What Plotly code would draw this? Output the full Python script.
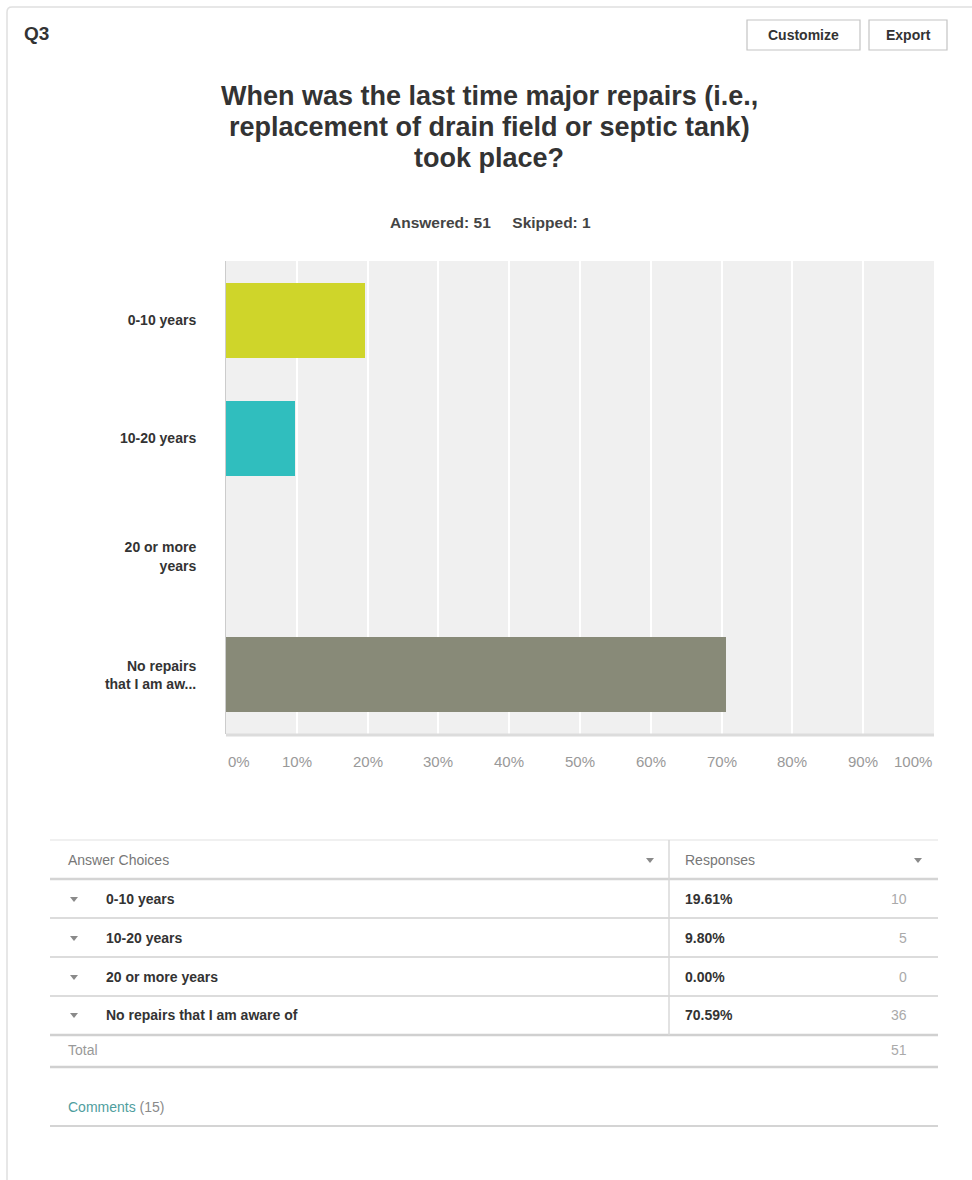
import plotly.graph_objects as go

# ---- data ----
answer_choices = ["0-10 years", "10-20 years", "20 or more years", "No repairs that I am aware of"]
axis_labels = ["0-10 years", "10-20 years", "20 or more<br>years", "No repairs<br>that I am aw..."]
percents = [19.61, 9.80, 0.00, 70.59]
counts = [10, 5, 0, 36]
total = 51
answered = 51
skipped = 1
comments = 15
bar_colors = ["#cfd52a", "#30bebe", "#d36a4e", "#888a78"]
tick_vals = [0, 10, 20, 30, 40, 50, 60, 70, 80, 90, 100]
tick_text = [f"{v}%" for v in tick_vals]

W, H = 972, 1180
FONT = "Liberation Sans, Arial, Helvetica, sans-serif"


def px(x):
    return x / W


def py(y):
    return 1 - y / H


fig = go.Figure()
fig.add_trace(go.Bar(
    x=percents, y=axis_labels, orientation="h",
    marker=dict(color=bar_colors, line=dict(width=0)),
    width=0.634, hoverinfo="skip",
))

shapes = []
annotations = []

# panel frame
shapes.append(dict(type="path", xref="paper", yref="paper",
                   path=f"M {px(7)},{py(1180)} L {px(7)},{py(12)} Q {px(7)},{py(7)} {px(12)},{py(7)} L {px(975)},{py(7)}",
                   line=dict(color="#e0e0e0", width=1.5)))

# header
annotations.append(dict(text="Q3", x=px(22), y=py(34), xref="paper", yref="paper",
                        xanchor="left", yanchor="middle", showarrow=False,
                        font=dict(family=FONT, size=19, color="#333333", weight="bold")))
for label, x0, x1 in [("Customize", 747, 860), ("Export", 869, 947)]:
    shapes.append(dict(type="rect", xref="paper", yref="paper",
                       x0=px(x0), x1=px(x1), y0=py(20), y1=py(50),
                       line=dict(color="#c4c4c4", width=1.2), fillcolor="#ffffff"))
    annotations.append(dict(text=label, x=px((x0 + x1) / 2), y=py(35), xref="paper", yref="paper",
                            xanchor="center", yanchor="middle", showarrow=False,
                            font=dict(family=FONT, size=14, color="#333333", weight="bold")))

# title lines
title_lines = ["When was the last time major repairs (i.e.,",
               "replacement of drain field or septic tank)",
               "took place?"]
for i, line in enumerate(title_lines):
    annotations.append(dict(text=line, x=px(489), y=py(96 + 31 * i), xref="paper", yref="paper",
                            xanchor="center", yanchor="middle", showarrow=False,
                            font=dict(family=FONT, size=27, color="#333333", weight="bold")))
annotations.append(dict(text=f"Answered: {answered}&nbsp;&nbsp;&nbsp;&nbsp;&nbsp;Skipped: {skipped}",
                        x=px(490), y=py(222), xref="paper", yref="paper",
                        xanchor="center", yanchor="middle", showarrow=False,
                        font=dict(family=FONT, size=15.5, color="#444444", weight="bold")))

# x tick labels (ends justified inside the plot)
for v, t in zip(tick_vals, tick_text):
    anchor = "left" if v == tick_vals[0] else ("right" if v == tick_vals[-1] else "center")
    annotations.append(dict(text=t, x=v, y=py(761), xref="x", yref="paper",
                            xanchor=anchor, yanchor="middle", showarrow=False,
                            font=dict(family=FONT, size=15, color="#999999")))

# axis base line
shapes.append(dict(type="line", xref="paper", yref="paper", x0=px(226), x1=px(934),
                   y0=py(735), y1=py(735), line=dict(color="#dcdcdc", width=3)))

# ---- table ----
TL, TR, DIV = 50, 938, 669
row_y = [899, 938, 977, 1015]


def hline(y, w=1.5, c="#dddddd", x0=TL, x1=TR):
    shapes.append(dict(type="line", xref="paper", yref="paper", x0=px(x0), x1=px(x1),
                       y0=py(y), y1=py(y), line=dict(color=c, width=w)))


def tri(cx, cy, c="#8a8a8a"):
    shapes.append(dict(type="path", xref="paper", yref="paper",
                       path=f"M {px(cx - 4)},{py(cy - 2)} L {px(cx + 4)},{py(cy - 2)} L {px(cx)},{py(cy + 3)} Z",
                       fillcolor=c, line=dict(width=0)))


def text(t, x, y, anchor="left", color="#333333", size=14, weight="normal"):
    annotations.append(dict(text=t, x=px(x), y=py(y), xref="paper", yref="paper",
                            xanchor=anchor, yanchor="middle", showarrow=False,
                            font=dict(family=FONT, size=size, color=color, weight=weight)))


hline(840, 1.2, "#e2e2e2")
hline(879, 2.5, "#d4d4d4")
for y in [918, 957, 996]:
    hline(y, 2, "#dcdcdc")
hline(1035, 2.5, "#d0d0d0")
hline(1067, 2.5, "#d0d0d0")
hline(1126, 2, "#d4d4d4")
shapes.append(dict(type="line", xref="paper", yref="paper", x0=px(DIV), x1=px(DIV),
                   y0=py(840), y1=py(1035), line=dict(color="#d8d8d8", width=1.5)))

text("Answer Choices", 66, 860, color="#777777")
text("Responses", 683, 860, color="#777777")
tri(650, 860)
tri(918, 860)
for ry, label, p, n in zip(row_y, answer_choices, percents, counts):
    tri(74, ry)
    text(label, 104, ry, weight="bold")
    text(f"{p:.2f}%", 683, ry, weight="bold")
    text(str(n), 909, ry, anchor="right", color="#aaaaaa")
text("Total", 66, 1050, color="#999999")
text(str(total), 909, 1050, anchor="right", color="#aaaaaa")
text(f"<span style='color:#4f9e9e'>Comments</span> ({comments})", 66, 1107, color="#8a8a8a")

fig.update_layout(
    width=W, height=H,
    margin=dict(l=0, r=0, t=0, b=0),
    paper_bgcolor="#ffffff",
    plot_bgcolor="#f0f0f0",
    showlegend=False,
    bargap=0,
    font=dict(family=FONT, size=13, color="#333333"),
    xaxis=dict(domain=[px(226), px(934)], range=[0, 100], tickvals=tick_vals,
               showticklabels=False, showgrid=True, gridcolor="#ffffff", gridwidth=2,
               zeroline=False, showline=False, fixedrange=True),
    yaxis=dict(domain=[py(734), py(261)], autorange="reversed", type="category",
               categoryorder="array", categoryarray=axis_labels,
               ticks="", ticklabelstandoff=26, showgrid=False, zeroline=False,
               showline=True, linecolor="#cccccc", linewidth=1,
               tickfont=dict(family=FONT, size=14, color="#333333", weight="bold"),
               fixedrange=True),
    shapes=shapes,
    annotations=annotations,
)

fig.write_html("out.html", config={"displayModeBar": False})
